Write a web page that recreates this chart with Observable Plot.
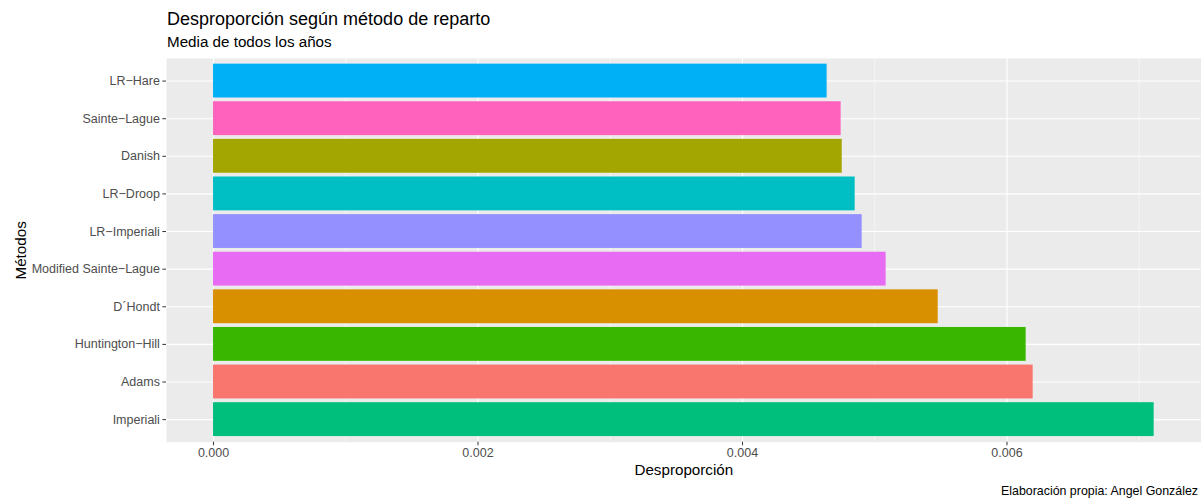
<!DOCTYPE html>
<html>
<head>
<meta charset="utf-8">
<script src="https://cdn.jsdelivr.net/npm/d3@7"></script>
<script src="https://cdn.jsdelivr.net/npm/@observablehq/plot@0.6"></script>
<style>
  html, body { margin: 0; padding: 0; background: #fff; }
  #chart svg { display: block; }
</style>
</head>
<body>
<div id="chart"></div>
<script>
// ---- Data ----
const methods = ["LR−Hare", "Sainte−Lague", "Danish", "LR−Droop", "LR−Imperiali",
  "Modified Sainte−Lague", "D´Hondt", "Huntington−Hill", "Adams", "Imperiali"];
const values = [0.004640, 0.004746, 0.004754, 0.004852, 0.004905,
  0.005086, 0.005480, 0.006145, 0.006198, 0.007113];
const colors = ["#00B0F6", "#FF62BC", "#A3A500", "#00BFC4", "#9590FF",
  "#E76BF3", "#D89000", "#39B600", "#F8766D", "#00BF7D"];
const xMajorTicks = [0, 0.002, 0.004, 0.006];
const xMinorTicks = [0.001, 0.003, 0.005, 0.007];
const titleText = "Desproporción según método de reparto";
const subtitleText = "Media de todos los años";
const xLabel = "Desproporción";
const yLabel = "Métodos";
const captionText = "Elaboración propia: Angel González";

const data = methods.map((m, i) => ({method: m, value: values[i]}));

const xmax = d3.max(values);
const pad = 0.05 * xmax;

const W = 1201, H = 498;
const mTop = 58, mBottom = 56.3, mLeft = 166, mRight = 0.3;

const chart = Plot.plot({
  width: W,
  height: H,
  marginTop: mTop,
  marginBottom: mBottom,
  marginLeft: mLeft,
  marginRight: mRight,
  style: {fontFamily: "'Liberation Sans', Arial, Helvetica, sans-serif", fontSize: "12.5px", background: "#fff"},
  x: {domain: [-pad, xmax + pad]},
  y: {domain: methods, type: "band", paddingInner: 0.1, paddingOuter: 0.15, round: false},
  color: {domain: methods, range: colors},
  marks: [
    Plot.frame({fill: "#EBEBEB", stroke: null}),
    Plot.gridX({ticks: xMinorTicks, stroke: "#fff", strokeOpacity: 1, strokeWidth: 0.55}),
    Plot.gridX({ticks: xMajorTicks, stroke: "#fff", strokeOpacity: 1, strokeWidth: 1.1}),
    Plot.gridY({stroke: "#fff", strokeOpacity: 1, strokeWidth: 1.1}),
    Plot.barX(data, {x: "value", y: "method", fill: "method"}),
    Plot.axisX({ticks: xMajorTicks, tickFormat: d3.format(".3f"), tickSize: 3.6, tickPadding: 2.4,
      stroke: "#333333", fill: "#4D4D4D", fontSize: 12.5, label: null}),
    Plot.axisY({tickSize: 3.6, tickPadding: 3, stroke: "#333333", fill: "#4D4D4D", fontSize: 12.5, label: null}),
    Plot.text([titleText], {text: d => d, frameAnchor: "top-left", textAnchor: "start", lineAnchor: "bottom",
      dx: 0.5, dy: 24.3 - mTop, fontSize: 18, fill: "#000"}),
    Plot.text([subtitleText], {text: d => d, frameAnchor: "top-left", textAnchor: "start", lineAnchor: "bottom",
      dx: 0.5, dy: 46.8 - mTop, fontSize: 15.2, fill: "#000"}),
    Plot.text([xLabel], {text: d => d, frameAnchor: "bottom", textAnchor: "middle", lineAnchor: "bottom",
      dy: 474 - (H - mBottom), fontSize: 15.2, fill: "#000"}),
    Plot.text([yLabel], {text: d => d, frameAnchor: "left", textAnchor: "middle", lineAnchor: "bottom",
      rotate: -90, dx: 25 - mLeft, fontSize: 15.2, fill: "#000"}),
    Plot.text([captionText], {text: d => d, frameAnchor: "bottom-right", textAnchor: "end", lineAnchor: "bottom",
      dx: -3.2, dy: 494.3 - (H - mBottom), fontSize: 12.4, fill: "#000"})
  ]
});

document.getElementById("chart").appendChild(chart);
</script>
</body>
</html>
